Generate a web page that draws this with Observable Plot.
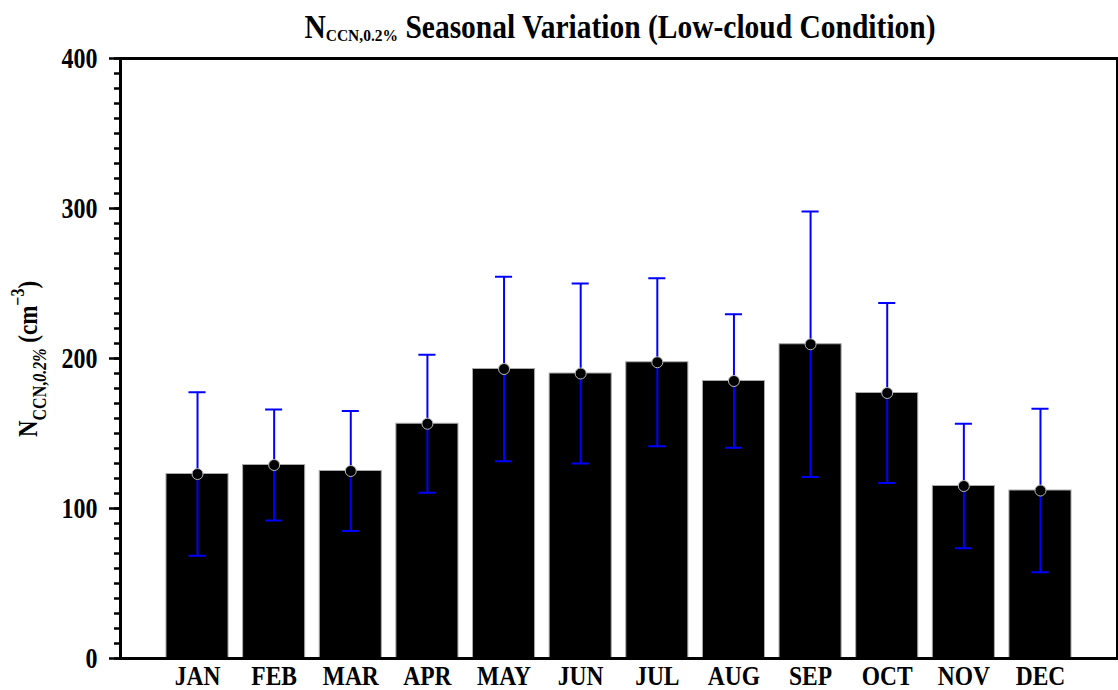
<!DOCTYPE html>
<html>
<head>
<meta charset="utf-8">
<script src="https://cdn.jsdelivr.net/npm/d3@7"></script>
<script src="https://cdn.jsdelivr.net/npm/@observablehq/plot@0.6"></script>
<style>
  html, body { margin: 0; padding: 0; background: #fff; }
  #chart svg { display: block; }
</style>
</head>
<body>
<div id="chart"></div>
<script>
const months = ["JAN","FEB","MAR","APR","MAY","JUN","JUL","AUG","SEP","OCT","NOV","DEC"];
const meanValues = [123, 129, 125, 156.5, 193, 190, 197.5, 185, 209.5, 177, 115, 112];
const sdValues = [54.5, 37, 40, 46, 61.5, 60, 56, 44.5, 88.5, 60, 41.5, 54.5];
const majorTicks = [0, 100, 200, 300, 400];
const minorTicks = d3.range(0, 401, 10);

const data = months.map((m, i) => ({
  month: m,
  mean: meanValues[i],
  lo: meanValues[i] - sdValues[i],
  hi: meanValues[i] + sdValues[i]
}));

const font = "'Liberation Serif', 'Times New Roman', serif";

const chart = Plot.plot({
  width: 1118,
  height: 690,
  marginTop: 58,
  marginBottom: 32,
  marginLeft: 120,
  marginRight: 1,
  style: { fontFamily: font, fontWeight: "bold", fontSize: "24px", color: "#000", background: "#fff" },
  x: { domain: months, paddingInner: 0.19, paddingOuter: 0.6, round: false, label: null },
  y: { domain: [0, 400], label: null },
  marks: [
    Plot.barY(data, { x: "month", y: "mean", fill: "#000", stroke: "#aaa", strokeWidth: 1 }),
    Plot.ruleX(data, { x: "month", y1: "lo", y2: "hi", stroke: "#0000ff", strokeWidth: 2 }),
    Plot.tickY(data, { x: "month", y: "hi", stroke: "#0000ff", strokeWidth: 2, inset: 22.5 }),
    Plot.tickY(data, { x: "month", y: "lo", stroke: "#0000ff", strokeWidth: 2, inset: 22.5 }),
    Plot.dot(data, { x: "month", y: "mean", r: 5.5, fill: "#000", stroke: "#bbb", strokeWidth: 1 }),
    Plot.axisY({ ticks: minorTicks, tickSize: 6, tickFormat: () => "", strokeWidth: 2.5, label: null }),
    Plot.axisY({ ticks: majorTicks, tickSize: 11, tickPadding: 12, strokeWidth: 2.5, fontSize: 24, label: null }),
    Plot.axisX({ tickSize: 0, tickPadding: 6, fontSize: 23.5, label: null }),
    Plot.frame({ stroke: "#000", strokeWidth: 3 })
  ]
});

document.getElementById("chart").appendChild(chart);

const svg = d3.select(chart);

// Stretch tick labels vertically like the reference's tall serif glyphs
svg.selectAll('g[aria-label="x-axis tick label"] text, g[aria-label="y-axis tick label"] text')
  .each(function() {
    const t = this.getAttribute("transform") || "";
    this.setAttribute("transform", t + " scale(1,1.2)");
  });

// Title
const title = svg.append("text")
  .attr("transform", "translate(620,38) scale(1,1.12)")
  .attr("text-anchor", "middle")
  .attr("font-family", font)
  .attr("font-weight", "bold")
  .attr("font-size", 29.5)
  .attr("fill", "#000")
  .style("white-space", "pre");
title.append("tspan").text("N");
title.append("tspan").attr("font-size", 15.5).attr("dy", 3).text("CCN,0.2%");
title.append("tspan").attr("dy", -3).text(" Seasonal Variation (Low-cloud Condition)");

// Y label
const ylab = svg.append("text")
  .attr("transform", "translate(37,359) rotate(-90) scale(1,1.15)")
  .attr("text-anchor", "middle")
  .attr("font-family", font)
  .attr("font-weight", "bold")
  .attr("font-size", 23)
  .attr("fill", "#000")
  .style("white-space", "pre");
ylab.append("tspan").text("N");
ylab.append("tspan").attr("font-size", 16).attr("dy", 8).text("CCN,");
ylab.append("tspan").attr("font-size", 16).attr("font-style", "italic").text("0.2%");
ylab.append("tspan").attr("dy", -8).text(" (cm");
ylab.append("tspan").attr("font-size", 16).attr("dy", -11).text("\u2212" + "3");
ylab.append("tspan").attr("dy", 11).text(")");
</script>
</body>
</html>
